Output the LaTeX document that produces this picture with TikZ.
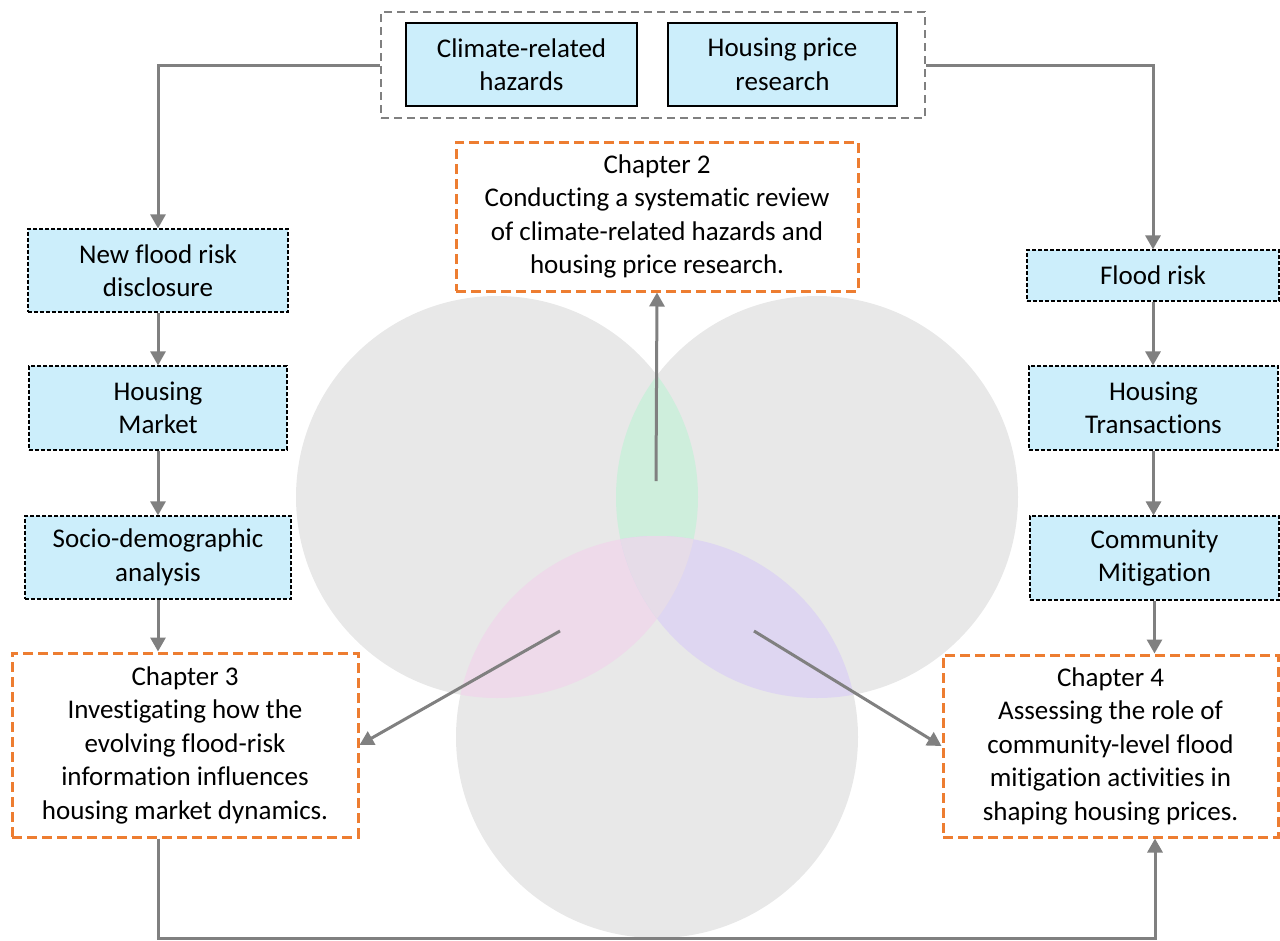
\documentclass[tikz,border=0pt]{standalone}
\usepackage{fontspec}
\setmainfont{Carlito}[Ligatures={NoCommon}]
\usetikzlibrary{arrows.meta,calc}
\definecolor{lblue}{RGB}{204,238,251}
\definecolor{corange}{RGB}{237,125,49}
\definecolor{cgray}{RGB}{128,128,128}
\definecolor{cgrey}{RGB}{232,232,232}
\definecolor{cgreen}{RGB}{206,238,220}
\definecolor{cpink}{RGB}{238,218,234}
\definecolor{cpurple}{RGB}{222,214,241}
\definecolor{cmid}{RGB}{230,220,232}
\tikzset{
  txt/.style={font=\fontsize{27}{33.5}\selectfont, align=center, inner sep=0pt},
  solidbox/.style={txt, draw=black, line width=1.2pt, fill=lblue},
  dashbox/.style={txt, draw=black, line width=1.2pt, fill=lblue, dash pattern=on 4pt off 2pt},
  chapbox/.style={txt, draw=corange, line width=3pt, fill=white, dash pattern=on 10pt off 5pt},
  groupbox/.style={draw=cgray, line width=2pt, dash pattern=on 8pt off 5pt, inner sep=0pt},
  conn/.style={draw=cgray, line width=3pt, -{Triangle[width=15pt,length=14pt]}},
}
\begin{document}
\begin{tikzpicture}[x=1pt,y=-1pt]
\useasboundingbox (0,0) rectangle (1280,940);
% Venn circles
\fill[cgrey] (497,497) circle (201pt);
\fill[cgrey] (817,497) circle (201pt);
\fill[cgrey] (657,737) circle (201pt);
\begin{scope}
  \clip (497,497) circle (201pt);
  \fill[cgreen] (817,497) circle (201pt);
\end{scope}
\begin{scope}
  \clip (497,497) circle (201pt);
  \fill[cpink] (657,737) circle (201pt);
\end{scope}
\begin{scope}
  \clip (817,497) circle (201pt);
  \fill[cpurple] (657,737) circle (201pt);
\end{scope}
\begin{scope}
  \clip (497,497) circle (201pt);
  \clip (817,497) circle (201pt);
  \fill[cmid] (657,737) circle (201pt);
\end{scope}
% top group
\node[groupbox, minimum width=544pt, minimum height=106pt] (outer) at (653,65) {};
\node[solidbox, minimum width=231pt, minimum height=83pt] (chr) at (521.5,64.5) {Climate-related\\hazards};
\node[solidbox, minimum width=229pt, minimum height=83pt] (hpr) at (782.5,64.5) {Housing price\\research};
% chapters
\node[chapbox, minimum width=402pt, minimum height=149pt] (ch2) at (657,216.5) {Chapter 2\\Conducting a systematic review\\of climate-related hazards and\\housing price research.};
\node[chapbox, minimum width=346pt, minimum height=184pt] (ch3) at (185,745) {Chapter 3\\Investigating how the\\evolving flood-risk\\information influences\\housing market dynamics.};
\node[chapbox, minimum width=335pt, minimum height=182pt] (ch4) at (1110.5,746) {Chapter 4\\Assessing the role of\\community-level flood\\mitigation activities in\\shaping housing prices.};
% left column
\node[dashbox, minimum width=260pt, minimum height=83pt] (nfrd) at (158,270.5) {New flood risk\\disclosure};
\node[dashbox, minimum width=258pt, minimum height=84pt] (hm) at (158,408) {Housing\\Market};
\node[dashbox, minimum width=266pt, minimum height=83pt] (sda) at (158,557.5) {Socio-demographic\\analysis};
% right column
\node[dashbox, minimum width=252pt, minimum height=51pt] (fr) at (1153,275.5) {Flood risk};
\node[dashbox, minimum width=249pt, minimum height=84pt] (ht) at (1153.5,408) {Housing\\Transactions};
\node[dashbox, minimum width=249pt, minimum height=84pt] (cm) at (1154.5,558) {Community\\Mitigation};
% connectors
\draw[conn] (outer.west) -| (nfrd.north);
\draw[conn] (outer.east) -| (fr.north);
\draw[conn] (nfrd.south) -- (hm.north);
\draw[conn] (hm.south) -- (sda.north);
\draw[conn] (sda.south) -- (sda.south |- ch3.north);
\draw[conn] (fr.south) -- (fr.south |- ht.north);
\draw[conn] (ht.south) -- (ht.south |- cm.north);
\draw[conn] (cm.south) -- (cm.south |- ch4.north);
\coordinate (a2) at (656,481);
\coordinate (a3) at (560,631);
\coordinate (a4) at (754,631);
\draw[conn] (a2) -- (ch2.south);
\draw[conn] (a3) -- (ch3.east);
\draw[conn] (a4) -- (ch4.west);
\coordinate (b1) at (158,938);
\coordinate (b2) at (1155,938);
\draw[conn] (sda.south |- ch3.south) -- (b1) -- (b2) -- (b2 |- ch4.south);
\end{tikzpicture}
\end{document}
